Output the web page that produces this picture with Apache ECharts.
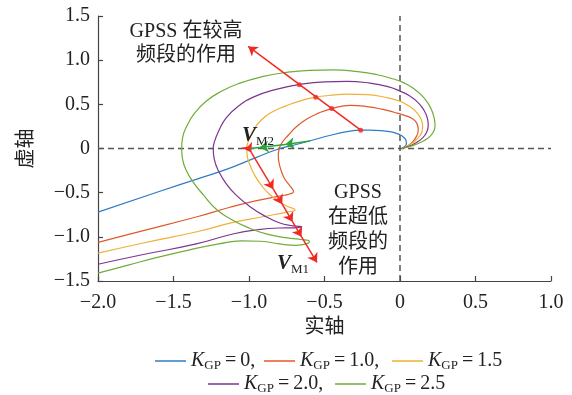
<!DOCTYPE html>
<html>
<head>
<meta charset="utf-8">
<script src="https://cdn.jsdelivr.net/npm/echarts@6/dist/echarts.min.js"></script>
<style>
  html, body { margin: 0; padding: 0; background: #fff; }
  #chart { width: 572px; height: 395px; }
</style>
</head>
<body>
<div id="chart"></div>
<script>
// Nyquist loci of the compensated open loop for several GPSS gains K_GP
const gainLabels = ['0', '1.0', '1.5', '2.0', '2.5'];
const curveColors = ['#2f7cc4', '#df5a2a', '#efb03a', '#7d3590', '#72ab3a'];

const locusK0 = [
  [0.01, 0], [0.03, 0.02], [0.042, 0.05], [0.04, 0.09], [0.025, 0.125], [0, 0.155],
  [-0.05, 0.185], [-0.13, 0.203], [-0.2, 0.208], [-0.26, 0.207], [-0.35, 0.19],
  [-0.46, 0.15], [-0.6, 0.085], [-0.7, 0.04], [-0.795, 0], [-0.95, -0.1],
  [-1.15, -0.237], [-1.325, -0.335], [-1.6, -0.49], [-2, -0.72]
];
const locusK10 = [
  [0.01, 0], [0.04, 0.02], [0.08, 0.07], [0.11, 0.14], [0.121, 0.215], [0.11, 0.29],
  [0.08, 0.34], [0.03, 0.375], [-0.04, 0.41], [-0.12, 0.445], [-0.22, 0.475], [-0.33, 0.488],
  [-0.452, 0.452], [-0.54, 0.4], [-0.62, 0.33], [-0.69, 0.24], [-0.74, 0.15], [-0.78, 0.07],
  [-0.8, 0], [-0.806, -0.08], [-0.8, -0.17], [-0.785, -0.26], [-0.765, -0.34], [-0.735, -0.41],
  [-0.712, -0.46], [-0.705, -0.49], [-0.73, -0.515], [-0.8, -0.54], [-0.95, -0.59],
  [-1.126, -0.665], [-1.338, -0.77], [-1.7, -0.93], [-2, -1.063]
];
const locusK15 = [
  [0.01, 0], [0.04, 0.02], [0.08, 0.06], [0.12, 0.12], [0.145, 0.19], [0.15, 0.252],
  [0.14, 0.33], [0.11, 0.41], [0.06, 0.48], [0, 0.535], [-0.1, 0.58], [-0.22, 0.61],
  [-0.35, 0.615], [-0.47, 0.6], [-0.558, 0.58], [-0.66, 0.54], [-0.76, 0.48], [-0.85, 0.41],
  [-0.92, 0.32], [-0.97, 0.21], [-1.0, 0.1], [-1.015, 0], [-1.01, -0.1], [-0.99, -0.2],
  [-0.96, -0.31], [-0.92, -0.41], [-0.87, -0.51], [-0.81, -0.59], [-0.75, -0.65],
  [-0.695, -0.695], [-0.75, -0.72], [-0.9, -0.77], [-1.126, -0.845], [-1.338, -0.94],
  [-1.7, -1.07], [-2, -1.185]
];
const locusK20 = [
  [0.01, 0], [0.05, 0.02], [0.1, 0.06], [0.15, 0.12], [0.178, 0.19], [0.187, 0.27],
  [0.18, 0.35], [0.16, 0.43], [0.12, 0.52], [0.06, 0.6], [0, 0.65], [-0.08, 0.7],
  [-0.2, 0.74], [-0.35, 0.76], [-0.5, 0.755], [-0.667, 0.725], [-0.82, 0.67], [-0.96, 0.59],
  [-1.07, 0.48], [-1.15, 0.35], [-1.2, 0.2], [-1.23, 0.07], [-1.237, 0], [-1.23, -0.12],
  [-1.2, -0.26], [-1.15, -0.4], [-1.09, -0.52], [-1.0, -0.65], [-0.9, -0.76], [-0.8, -0.84],
  [-0.71, -0.875], [-0.651, -0.886], [-0.7, -0.898], [-0.8, -0.9], [-0.95, -0.92],
  [-1.1, -0.965], [-1.35, -1.08], [-1.7, -1.2], [-2, -1.31]
];
const locusK25 = [
  [0.01, 0], [0.06, 0.02], [0.11, 0.05], [0.16, 0.09], [0.2, 0.14], [0.225, 0.2],
  [0.232, 0.26], [0.228, 0.33], [0.215, 0.41], [0.19, 0.5], [0.15, 0.59], [0.09, 0.68],
  [0.03, 0.74], [-0.05, 0.79], [-0.15, 0.835], [-0.28, 0.87], [-0.44, 0.89], [-0.6, 0.885],
  [-0.76, 0.86], [-0.92, 0.81], [-1.06, 0.74], [-1.18, 0.65], [-1.28, 0.54], [-1.36, 0.4],
  [-1.41, 0.26], [-1.44, 0.12], [-1.446, 0], [-1.44, -0.12], [-1.415, -0.25], [-1.37, -0.38],
  [-1.3, -0.53], [-1.215, -0.69], [-1.12, -0.8], [-1.0, -0.9], [-0.88, -0.97], [-0.76, -1.01],
  [-0.66, -1.03], [-0.6, -1.05], [-0.62, -1.08], [-0.69, -1.096], [-0.8, -1.08],
  [-0.92, -1.05], [-1.05, -1.045], [-1.2, -1.08], [-1.4, -1.15], [-1.6, -1.23],
  [-1.8, -1.32], [-2, -1.41]
];
const loci = [locusK0, locusK10, locusK15, locusK20, locusK25];

// High-band effect: points where the loci cross the guide ray, and its arrow tip
const highBandDots = [[-0.26, 0.207], [-0.452, 0.452], [-0.558, 0.58], [-0.667, 0.723]];
const highBandTip = [-1.005, 1.156];
// V_M1 path through the low-frequency tips (arrowheads at each stop)
const vm1Stops = [[-1.0, 0.0], [-0.985, -0.045], [-0.839, -0.46], [-0.78, -0.63], [-0.711, -0.83], [-0.652, -1.0], [-0.55, -1.29]];
// V_M2 path along the real axis
const vm2Stops = [[-0.596, 0.085], [-0.76, 0.045], [-0.93, 0.012], [-0.995, 0.0]];
const vm2Arrowed = [true, true, false];
// Reference axes through the origin
const realAxisLine = [[-2, 0], [1, 0]];
const imagAxisLine = [[0, -1.5], [0, 1.5]];

const xTicks = [-2, -1.5, -1, -0.5, 0, 0.5, 1];
const xTickLabels = ['\u22122.0', '\u22121.5', '\u22121.0', '\u22120.5', '0', '0.5', '1.0'];
const yTicks = [-1.5, -1, -0.5, 0, 0.5, 1, 1.5];
const yTickLabels = ['\u22121.5', '\u22121.0', '\u22120.5', '0', '0.5', '1.0', '1.5'];

const serif = '"Liberation Serif", "Times New Roman", serif';
const mixed = '"Liberation Serif", "Noto Sans CJK SC", serif';
const ink = '#222';

function tickFmt(ticks, labels) {
  return function (v) {
    const i = ticks.findIndex(t => Math.abs(t - v) < 1e-9);
    return i >= 0 ? labels[i] : '';
  };
}

const chart = echarts.init(document.getElementById('chart'), null, { renderer: 'canvas' });

const series = [];
series.push({
  type: 'line', data: realAxisLine, showSymbol: false, silent: true, z: 1,
  lineStyle: { color: '#555', width: 1.5, type: [6, 4] }
});
series.push({
  type: 'line', data: imagAxisLine, showSymbol: false, silent: true, z: 1,
  lineStyle: { color: '#555', width: 1.5, type: [6, 4] }
});
loci.forEach((pts, i) => {
  series.push({
    name: 'K' + i,
    type: 'line',
    data: pts,
    showSymbol: false,
    smooth: 0.5,
    z: 2,
    color: curveColors[i],
    lineStyle: { color: curveColors[i], width: 1.2 }
  });
});

// red high-band arrow and its crossing dots
series.push({
  type: 'lines', coordinateSystem: 'cartesian2d', z: 5,
  symbol: ['none', 'arrow'], symbolSize: 9,
  lineStyle: { color: '#f02a23', width: 1.5, opacity: 1 },
  data: [{ coords: [highBandDots[0], highBandTip] }]
});
series.push({
  type: 'scatter', z: 6, symbol: 'circle', symbolSize: 5,
  itemStyle: { color: '#f02a23' },
  data: highBandDots
});
// red V_M1 arrow chain
const vm1Segs = [];
for (let i = 0; i < vm1Stops.length - 1; i++) {
  vm1Segs.push({ coords: [vm1Stops[i], vm1Stops[i + 1]] });
}
series.push({
  type: 'lines', coordinateSystem: 'cartesian2d', z: 5,
  symbol: ['none', 'arrow'], symbolSize: 9,
  lineStyle: { color: '#f02a23', width: 1.5, opacity: 1 },
  data: vm1Segs
});
// green V_M2 arrow chain
const vm2Segs = [];
for (let i = 0; i < vm2Stops.length - 1; i++) {
  vm2Segs.push({
    coords: [vm2Stops[i], vm2Stops[i + 1]],
    symbol: ['none', vm2Arrowed[i] ? 'arrow' : 'none']
  });
}
series.push({
  type: 'lines', coordinateSystem: 'cartesian2d', z: 5,
  symbol: ['none', 'arrow'], symbolSize: 9,
  lineStyle: { color: '#2da33a', width: 1.5, opacity: 1 },
  data: vm2Segs
});

// one legend per entry, laid out in two rows
const legendSlots = [
  { left: 150, top: 346, comma: true },
  { left: 259, top: 346, comma: true },
  { left: 387, top: 346, comma: false },
  { left: 203, top: 369, comma: true },
  { left: 330, top: 369, comma: false }
];
const legends = legendSlots.map((slot, i) => ({
  left: slot.left, top: slot.top,
  orient: 'horizontal',
  data: ['K' + i],
  icon: 'rect', itemWidth: 31, itemHeight: 1.5, itemGap: 0,
  selectedMode: false,
  formatter: () => '{k|K}{s|GP}{t|\u2009=\u2009' + gainLabels[i] + (slot.comma ? ',' : '') + '}',
  textStyle: {
    color: ink,
    rich: {
      k: { fontFamily: serif, fontStyle: 'italic', fontSize: 20, lineHeight: 22, color: ink },
      s: { fontFamily: serif, fontSize: 13, lineHeight: 12, verticalAlign: 'bottom', color: ink },
      t: { fontFamily: serif, fontSize: 20, lineHeight: 22, color: ink }
    }
  }
}));

const axisCommon = {
  axisLine: { show: true, onZero: false, lineStyle: { color: '#444', width: 1.2 } },
  axisTick: { show: true, inside: true, length: 5, lineStyle: { color: '#444', width: 1.2 } },
  splitLine: { show: false }
};

const option = {
  animation: false,
  backgroundColor: '#fff',
  grid: { left: 98, right: 21, top: 16, bottom: 114 },
  xAxis: Object.assign({
    type: 'value', min: -2, max: 1, interval: 0.5,
    name: '实轴', nameLocation: 'middle', nameGap: 36,
    nameTextStyle: { fontFamily: mixed, fontSize: 20, color: ink },
    axisLabel: { formatter: tickFmt(xTicks, xTickLabels), fontFamily: serif, fontSize: 20, color: ink, margin: 12 }
  }, axisCommon),
  yAxis: Object.assign({
    type: 'value', min: -1.5, max: 1.5, interval: 0.5,
    name: '虚轴', nameLocation: 'middle', nameGap: 61, nameRotate: 90,
    nameTextStyle: { fontFamily: mixed, fontSize: 20, color: ink },
    axisLabel: { formatter: tickFmt(yTicks, yTickLabels), fontFamily: serif, fontSize: 20, color: ink, margin: 8 }
  }, axisCommon),
  legend: legends,
  series: series,
  graphic: [
    {
      type: 'text', x: 186, y: 44, z: 10,
      style: {
        text: 'GPSS 在较高\n频段的作用', font: '20px ' + mixed, fill: ink,
        align: 'center', verticalAlign: 'middle', lineHeight: 24
      }
    },
    {
      type: 'text', x: 358, y: 230, z: 10,
      style: {
        text: 'GPSS\n在超低\n频段的\n作用', font: '20px ' + mixed, fill: ink,
        align: 'center', verticalAlign: 'middle', lineHeight: 25
      }
    },
    {
      type: 'text', x: 242, y: 136, z: 10,
      style: {
        text: '{v|V}{s|M2}', align: 'left', verticalAlign: 'middle',
        rich: {
          v: { fontFamily: serif, fontStyle: 'italic', fontWeight: 'bold', fontSize: 21, lineHeight: 24, fill: ink },
          s: { fontFamily: serif, fontSize: 13, lineHeight: 12, verticalAlign: 'bottom', fill: ink }
        }
      }
    },
    {
      type: 'text', x: 277, y: 264, z: 10,
      style: {
        text: '{v|V}{s|M1}', align: 'left', verticalAlign: 'middle',
        rich: {
          v: { fontFamily: serif, fontStyle: 'italic', fontWeight: 'bold', fontSize: 21, lineHeight: 24, fill: ink },
          s: { fontFamily: serif, fontSize: 13, lineHeight: 12, verticalAlign: 'bottom', fill: ink }
        }
      }
    }
  ]
};
chart.setOption(option);
</script>
</body>
</html>
